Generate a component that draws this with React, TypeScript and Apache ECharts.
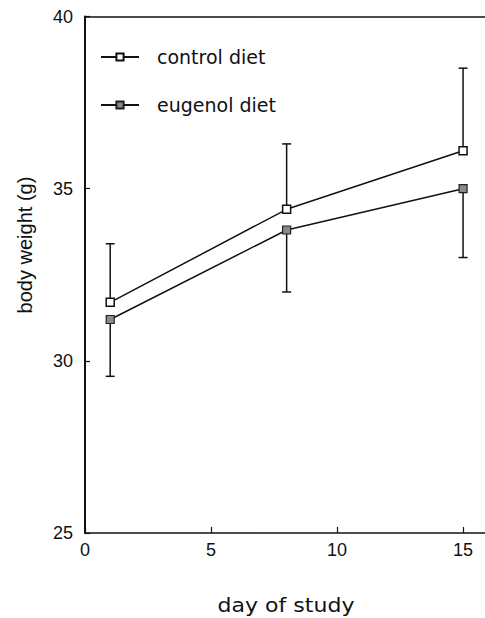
import React, { useEffect, useRef } from "react";
import * as echarts from "echarts";

const days = [1, 8, 15];
const controlMean = [31.7, 34.4, 36.1];
const controlUpper = [33.4, 36.3, 38.5];
const eugenolMean = [31.2, 33.8, 35.0];
const eugenolLower = [29.55, 32.0, 33.0];
const xTicks = [0, 5, 10, 15];
const seriesNames = ["control diet", "eugenol diet"];

const LAB = "Liberation Sans, Arial, Helvetica, sans-serif";
const WIDE = "DejaVu Sans, Liberation Sans, sans-serif";

function errorSeries(name: string, mean: number[], bound: number[]) {
  return {
    type: "custom",
    name: name + " error",
    z: 1,
    silent: true,
    data: days.map((d, i) => [d, mean[i], bound[i]]),
    renderItem: (params: any, api: any) => {
      const p0 = api.coord([api.value(0), api.value(1)]);
      const p1 = api.coord([api.value(0), api.value(2)]);
      const capHalf = 4.5;
      const style = { stroke: "#111", lineWidth: 1.5 };
      return {
        type: "group",
        children: [
          { type: "line", shape: { x1: p0[0], y1: p0[1], x2: p1[0], y2: p1[1] }, style },
          { type: "line", shape: { x1: p1[0] - capHalf, y1: p1[1], x2: p1[0] + capHalf, y2: p1[1] }, style },
        ],
      };
    },
  };
}

export default function App() {
  const ref = useRef<HTMLDivElement>(null);
  useEffect(() => {
    const chart = echarts.init(ref.current!, undefined, { renderer: "svg" });
    chart.setOption({
      animation: false,
      backgroundColor: "#fff",
      grid: { left: 85, top: 16.5, right: 0, bottom: 85, containLabel: false },
      legend: {
        orient: "vertical",
        left: 95,
        top: 42,
        itemWidth: 38,
        itemHeight: 9,
        itemGap: 28,
        data: seriesNames,
        textStyle: { fontFamily: WIDE, fontSize: 19, color: "#111", lineHeight: 20, padding: [0, 0, 0, 13] },
      },
      xAxis: [
        {
          type: "value",
          min: 0,
          max: 15.87,
          interval: 5,
          splitLine: { show: false },
          axisLine: { lineStyle: { color: "#111", width: 1.5 } },
          axisTick: { inside: true, length: 6, lineStyle: { color: "#111", width: 1.2 }, customValues: xTicks },
          axisLabel: { color: "#111", fontSize: 18, fontFamily: LAB, margin: 8, customValues: xTicks },
        },
        {
          type: "value",
          position: "top",
          min: 0,
          max: 15.87,
          splitLine: { show: false },
          axisLine: { show: true, lineStyle: { color: "#111", width: 1.5 } },
          axisTick: { show: false },
          axisLabel: { show: false },
        },
      ],
      yAxis: {
        type: "value",
        min: 25,
        max: 40,
        interval: 5,
        splitLine: { show: false },
        axisLine: { show: true, lineStyle: { color: "#111", width: 2 } },
        axisTick: { show: true, inside: true, length: 5, lineStyle: { color: "#111", width: 1.2 } },
        axisLabel: { color: "#111", fontSize: 18, fontFamily: LAB, margin: 12 },
      },
      graphic: [
        {
          type: "text",
          x: 25,
          y: 245,
          rotation: Math.PI / 2,
          style: { text: "body weight (g)", fontSize: 20, fontFamily: LAB, fill: "#111", align: "center", verticalAlign: "middle" },
        },
        {
          type: "text",
          x: 286,
          y: 606,
          scaleX: 1.16,
          style: { text: "day of study", fontSize: 19, fontFamily: WIDE, fill: "#111", align: "center", verticalAlign: "middle" },
        },
      ],
      series: [
        errorSeries("control", controlMean, controlUpper),
        errorSeries("eugenol", eugenolMean, eugenolLower),
        {
          type: "line",
          name: seriesNames[0],
          z: 3,
          data: days.map((d, i) => [d, controlMean[i]]),
          symbol: "rect",
          symbolSize: 8,
          lineStyle: { color: "#111", width: 1.5 },
          itemStyle: { color: "#fff", borderColor: "#111", borderWidth: 1.5 },
        },
        {
          type: "line",
          name: seriesNames[1],
          z: 3,
          data: days.map((d, i) => [d, eugenolMean[i]]),
          symbol: "rect",
          symbolSize: 8,
          lineStyle: { color: "#111", width: 1.5 },
          itemStyle: { color: "#8a8a8a", borderColor: "#222", borderWidth: 1.2 },
        },
      ],
    });
    return () => chart.dispose();
  }, []);
  return <div ref={ref} style={{ position: "absolute", left: 0, top: 0, width: 485, height: 618 }} />;
}
